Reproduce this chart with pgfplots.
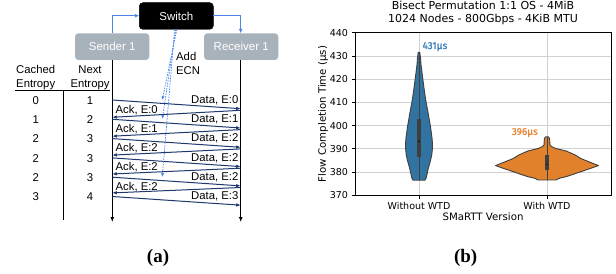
\documentclass[border=0pt]{standalone}
\usepackage{pgfplots}
\pgfplotsset{compat=1.18}
\usepackage{fontspec}
\setmainfont{DejaVu Sans}
\newfontfamily\arialf{Liberation Sans}
\newfontfamily\serifb{Liberation Serif}
\newfontfamily\annf[FakeBold=1.2]{Fira Sans}
\usetikzlibrary{arrows.meta}
\definecolor{sgray}{RGB}{168,178,186}
\definecolor{ablue}{RGB}{74,134,232}
\definecolor{navy}{RGB}{31,56,110}
\definecolor{vblue}{HTML}{3274A1}
\definecolor{vorange}{HTML}{E1812C}
\definecolor{tblue}{HTML}{3A80BE}
\definecolor{torange}{HTML}{E8893A}
\definecolor{edgec}{HTML}{3F3F3F}
\begin{document}
\begin{tikzpicture}[x=1bp,y=1bp]
% ---------------- (a) diagram on a hidden pixel-grid axis ----------------
\begin{axis}[at={(0,0)}, anchor=south west, scale only axis, width=616bp, height=274bp,
  xmin=0, xmax=616, ymin=0, ymax=274, y dir=reverse, hide axis, clip=false]
 % boxes
 \draw[fill=black, rounded corners=3.5bp] (axis cs:139.3,2.7) rectangle (axis cs:213.3,29.3);
 \draw[fill=sgray, draw=none, rounded corners=3.5bp] (axis cs:75,33.3) rectangle (axis cs:149.3,60);
 \draw[fill=sgray, draw=none, rounded corners=3.5bp] (axis cs:204,33.3) rectangle (axis cs:278.3,60);
 \node[font=\arialf\fontsize{11.5bp}{13.6bp}\selectfont, text=white] at (axis cs:176.3,16) {Switch};
 \node[font=\arialf\fontsize{11.5bp}{13.6bp}\selectfont, text=white] at (axis cs:112.2,46.7) {Sender 1};
 \node[font=\arialf\fontsize{11.5bp}{13.6bp}\selectfont, text=white] at (axis cs:241.2,46.7) {Receiver 1};
 % blue solid connectors
 \addplot[ablue, line width=1bp, -{Latex[length=4.5bp,width=4bp]}] coordinates {(112.3,33.3) (112.3,15.7) (139.3,15.7)};
 \addplot[ablue, line width=1bp, -{Latex[length=4.5bp,width=4bp]}] coordinates {(213.3,15.7) (240.7,15.7) (240.7,33.3)};
 % time lines
 \addplot[black, line width=0.9bp, -{Latex[length=5bp,width=4bp]}] coordinates {(112.3,60) (112.3,222)};
 \addplot[black, line width=0.9bp, -{Latex[length=5bp,width=4bp]}] coordinates {(240.7,60) (240.7,222)};
 % table lines
 \addplot[black, line width=0.9bp] coordinates {(15,90.7) (110,90.7)};
 \addplot[black, line width=0.9bp] coordinates {(63.3,90.7) (63.3,220)};
 % headers
 \node[font=\arialf\fontsize{11.3bp}{13.6bp}\selectfont, anchor=base] at (axis cs:35.7,73.5) {Cached};
 \node[font=\arialf\fontsize{11.3bp}{13.6bp}\selectfont, anchor=base] at (axis cs:35.7,87.5) {Entropy};
 \node[font=\arialf\fontsize{11.3bp}{13.6bp}\selectfont, anchor=base] at (axis cs:90,73.5) {Next};
 \node[font=\arialf\fontsize{11.3bp}{13.6bp}\selectfont, anchor=base] at (axis cs:90,87.5) {Entropy};
 % table values
 \begin{scope}[every node/.style={font=\arialf\fontsize{11.3bp}{13.6bp}\selectfont}]
 \node at (axis cs:35.7,100.3) {0}; \node at (axis cs:90,100.3) {1};
 \node at (axis cs:35.7,119.6) {1}; \node at (axis cs:90,119.6) {2};
 \node at (axis cs:35.7,138.9) {2}; \node at (axis cs:90,138.9) {3};
 \node at (axis cs:35.7,158.2) {2}; \node at (axis cs:90,158.2) {3};
 \node at (axis cs:35.7,177.5) {2}; \node at (axis cs:90,177.5) {3};
 \node at (axis cs:35.7,196.8) {3}; \node at (axis cs:90,196.8) {4};
 \end{scope}
 % data arrows
 \pgfplotsset{darr/.style={navy, line width=1bp, -{Latex[length=4.5bp,width=3.6bp]}}}
 \addplot[darr] coordinates {(112.3,100.0) (240.7,108.7)};
 \addplot[darr] coordinates {(112.3,119.3) (240.7,128.0)};
 \addplot[darr] coordinates {(112.3,138.6) (240.7,147.3)};
 \addplot[darr] coordinates {(112.3,157.9) (240.7,166.6)};
 \addplot[darr] coordinates {(112.3,177.2) (240.7,185.9)};
 \addplot[darr] coordinates {(112.3,196.5) (240.7,205.2)};
 % ack arrows
 \addplot[darr] coordinates {(240.7,110.3) (112.3,117.3)};
 \addplot[darr] coordinates {(240.7,129.6) (112.3,136.2)};
 \addplot[darr] coordinates {(240.7,148.9) (112.3,155.1)};
 \addplot[darr] coordinates {(240.7,168.2) (112.3,174.0)};
 \addplot[darr] coordinates {(240.7,187.5) (112.3,192.9)};
 % labels on arrows
 \begin{scope}[every node/.style={font=\arialf\fontsize{11.3bp}{13.6bp}\selectfont, inner sep=0pt}]
 \node[anchor=base east] at (axis cs:238.5,103.3) {Data, E:0};
 \node[anchor=base east] at (axis cs:238.5,122.6) {Data, E:1};
 \node[anchor=base east] at (axis cs:238.5,141.9) {Data, E:2};
 \node[anchor=base east] at (axis cs:238.5,161.2) {Data, E:2};
 \node[anchor=base east] at (axis cs:238.5,180.5) {Data, E:2};
 \node[anchor=base east] at (axis cs:238.5,199.8) {Data, E:3};
 \node[anchor=base west] at (axis cs:115.5,113.3) {Ack, E:0};
 \node[anchor=base west] at (axis cs:115.5,132.5) {Ack, E:1};
 \node[anchor=base west] at (axis cs:115.5,151.7) {Ack, E:2};
 \node[anchor=base west] at (axis cs:115.5,170.9) {Ack, E:2};
 \node[anchor=base west] at (axis cs:115.5,190.1) {Ack, E:2};
 \node[anchor=base west] at (axis cs:176,60.7) {Add};
 \node[anchor=base west] at (axis cs:176,74.7) {ECN};
 \end{scope}
 % ECN dashed arrows
 \pgfplotsset{ecn/.style={ablue, line width=0.7bp, dash pattern=on 1.6bp off 1.1bp, -{Latex[length=3.8bp,width=3.2bp]}}}
 \addplot[ecn] coordinates {(176.8,29.3) (162.3,100.0)};
 \addplot[ecn] coordinates {(175.8,29.3) (162.3,119.0)};
 \addplot[ecn] coordinates {(174.6,29.3) (162.3,177.0)};
 % panel labels
 \node[font=\serifb\bfseries\fontsize{19bp}{22bp}\selectfont] at (axis cs:158,258) {(a)};
 \node[font=\serifb\bfseries\fontsize{19bp}{22bp}\selectfont] at (axis cs:465.7,258) {(b)};
\end{axis}
% ---------------- (b) violin plot ----------------
\begin{axis}[at={(355bp,78.7bp)}, anchor=south west, scale only axis, width=256bp, height=162.6bp,
  xmin=-0.5, xmax=1.5, ymin=370, ymax=440,
  xtick={0,1}, xticklabels={Without WTD, With WTD},
  ytick={370,380,...,440},
  tick pos=left, tick align=outside, major tick length=3.5bp,
  grid=major, grid style={line width=0.8bp, color=black!18},
  axis line style={line width=0.8bp, black},
  tick style={black, line width=0.8bp},
  tick label style={font=\fontsize{9.5bp}{11bp}\selectfont},
  /pgf/number format/assume math mode=true,
  title={Bisect Permutation 1:1 OS - 4MiB\\1024 Nodes - 800Gbps - 4KiB MTU},
  title style={at={(axis description cs:0.5,1.086)}, anchor=center, align=center, inner sep=0pt,
    font=\fontsize{11bp}{12.9bp}\selectfont},
  xlabel={SMaRTT Version},
  ylabel={Flow Completion Time (µs)},
  every axis x label/.style={at={(axis description cs:0.5,-0.132)}, anchor=center, font=\fontsize{10.2bp}{12bp}\selectfont},
  every axis y label/.style={at={(axis description cs:-0.125,0.5)}, anchor=center, rotate=90, font=\fontsize{10.2bp}{12bp}\selectfont},
  clip=false]
 % violin 1: Without WTD
 \addplot[fill=vblue, draw=edgec, line width=0.9bp, line join=round] coordinates {
  (0.047,376.5) (0.055,377.3) (0.0625,379) (0.070,381) (0.080,383) (0.091,385.2) (0.100,387.5)
  (0.105,390.2) (0.105,392.5) (0.102,394.5) (0.096,397) (0.090,399.5) (0.082,402) (0.074,404.6)
  (0.066,407) (0.057,409.6) (0.050,412) (0.043,414.6) (0.036,417.5) (0.029,420.4) (0.023,423)
  (0.016,426.1) (0.012,429) (0.006,431.5)
  (-0.006,431.5) (-0.012,429) (-0.016,426.1) (-0.023,423) (-0.029,420.4) (-0.036,417.5) (-0.043,414.6)
  (-0.050,412) (-0.057,409.6) (-0.066,407) (-0.074,404.6) (-0.082,402) (-0.090,399.5) (-0.096,397)
  (-0.102,394.5) (-0.105,392.5) (-0.105,390.2) (-0.100,387.5) (-0.091,385.2) (-0.080,383) (-0.070,381)
  (-0.0625,379) (-0.055,377.3) (-0.047,376.5) (0.047,376.5)};
 \addplot[edgec, line width=1bp] coordinates {(0,376.5) (0,431.5)};
 \addplot[edgec, line width=3.6bp] coordinates {(0,386.6) (0,402.8)};
 \addplot[only marks, mark=*, mark size=0.8bp, draw=none, fill=white!85!gray] coordinates {(0,393.4)};
 % violin 2: With WTD
 \addplot[fill=vorange, draw=edgec, line width=0.9bp, line join=round] coordinates {
  (1.070,376.6) (1.094,377.3) (1.148,378) (1.203,379) (1.266,380.2) (1.336,381.5) (1.402,382.8)
  (1.324,384.5) (1.262,385.9) (1.219,387.4) (1.148,389.1) (1.066,390.2) (1.035,391) (1.023,391.7)
  (1.022,393) (1.020,394.5) (1.010,395.2)
  (0.990,395.2) (0.980,394.5) (0.978,393) (0.977,391.7) (0.965,391) (0.934,390.2) (0.852,389.1)
  (0.781,387.4) (0.738,385.9) (0.676,384.5) (0.598,382.8) (0.664,381.5) (0.734,380.2) (0.797,379)
  (0.852,378) (0.906,377.3) (0.930,376.6) (1.070,376.6)};
 \addplot[edgec, line width=1bp] coordinates {(1,376.6) (1,395.2)};
 \addplot[edgec, line width=4bp] coordinates {(1,381) (1,387.2)};
 \addplot[only marks, mark=*, mark size=0.8bp, draw=none, fill=white!85!gray] coordinates {(1,383.3)};
 % annotations
 \node[font=\annf\fontsize{10bp}{11bp}\selectfont, text=tblue, anchor=west, inner sep=0pt] at (axis cs:0.026,434) {431µs};
 \node[font=\annf\fontsize{10bp}{11bp}\selectfont, text=torange, anchor=east, inner sep=0pt] at (axis cs:0.93,397) {396µs};
\end{axis}
\pgfresetboundingbox
\useasboundingbox (0,0) rectangle (616bp,274bp);
\end{tikzpicture}
\end{document}
